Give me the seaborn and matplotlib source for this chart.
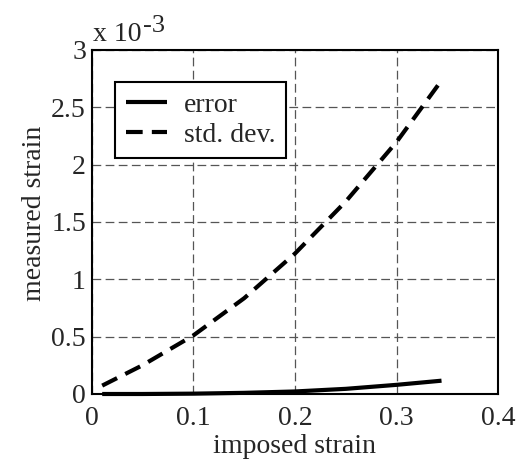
import pandas as pd
import matplotlib.pyplot as plt
import seaborn as sns

# 데이터 (measured strain, x 10^-3 단위)
std_x = [0.0105, 0.05, 0.10, 0.15, 0.20, 0.25, 0.30, 0.342]
std_y = [0.073, 0.25, 0.51, 0.835, 1.225, 1.68, 2.20, 2.71]
err_x = [0.0105, 0.05, 0.10, 0.15, 0.20, 0.25, 0.30, 0.344]
err_y = [0.0, 0.0, 0.003, 0.01, 0.022, 0.045, 0.08, 0.116]

df = pd.concat([
    pd.DataFrame({'imposed': err_x, 'measured': err_y, 'series': 'error'}),
    pd.DataFrame({'imposed': std_x, 'measured': std_y, 'series': 'std. dev.'}),
])

sns.set_style('white')
plt.rcParams['font.family'] = ['Liberation Serif', 'DejaVu Serif']

fig = plt.figure(figsize=(5.25, 4.65), dpi=100)
ax = fig.add_axes([0.1743, 0.1527, 0.7752, 0.7398])

sns.lineplot(data=df, x='imposed', y='measured', style='series',
             dashes={'error': '', 'std. dev.': (4, 2.2)}, color='black',
             linewidth=3, ax=ax)
for ln in ax.get_lines():
    ln.set_clip_on(False)
    ln.set_solid_capstyle('butt')
    ln.set_dash_capstyle('butt')

ax.set_xlim(0, 0.4)
ax.set_ylim(0, 3)
ax.set_xticks([0, 0.1, 0.2, 0.3, 0.4])
ax.set_xticklabels(['0', '0.1', '0.2', '0.3', '0.4'])
ax.set_yticks([0, 0.5, 1, 1.5, 2, 2.5, 3])
ax.set_yticklabels(['0', '0.5', '1', '1.5', '2', '2.5', '3'])
ax.tick_params(axis='both', labelsize=20, length=0)
ax.tick_params(axis='x', pad=9)
ax.tick_params(axis='y', pad=4)
ax.grid(True, color='#555555', linestyle=(0, (7, 3.5)), linewidth=0.9)
ax.set_axisbelow(True)
for s in ax.spines.values():
    s.set_color('black')
    s.set_linewidth(1.5)

ax.set_xlabel('imposed strain', fontsize=20, labelpad=2)
ax.set_ylabel('measured strain', fontsize=20)
ax.yaxis.set_label_coords(-0.109, 0.526)

# 지수 표기
fig.text(92.7 / 525, 1 - 40.7 / 465, 'x 10', fontsize=20, ha='left', va='baseline')
fig.text(143 / 525, 1 - 31.7 / 465, '-3', fontsize=19, ha='left', va='baseline')

leg = ax.legend(loc='upper left', bbox_to_anchor=(0.058, 0.907), borderaxespad=0,
                fontsize=20, frameon=True, fancybox=False, handlelength=1.5,
                handletextpad=0.6, borderpad=0.38, labelspacing=0.15, title=None)
leg.get_frame().set_edgecolor('black')
leg.get_frame().set_linewidth(1.5)
leg.get_frame().set_alpha(1)
for h in leg.get_lines():
    h.set_linewidth(3)

fig.savefig('out.png', dpi=100, facecolor='white')
